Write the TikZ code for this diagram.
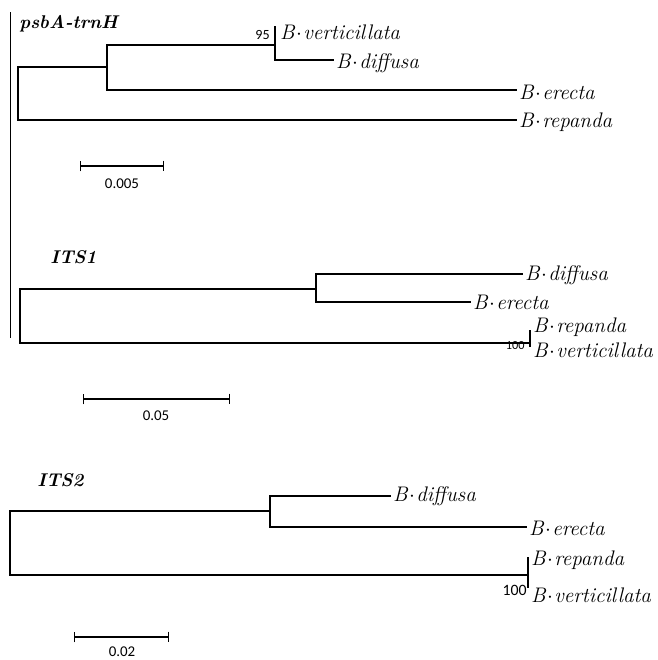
\documentclass[tikz,border=0pt]{standalone}
\usepackage{fontspec}
\usetikzlibrary{arrows.meta}
\newfontfamily\numfont{Carlito}
\newcommand{\spname}[1]{B\kern0.8pt$\cdot$\kern0.8pt#1}
\tikzset{
  branch/.style={line width=0.8pt},
  taxon/.style={anchor=west, inner sep=1pt, font=\fontsize{12}{14}\selectfont\itshape},
  support/.style={inner sep=0pt, font=\fontsize{8}{9}\selectfont\numfont},
  marker/.style={anchor=west, inner sep=0pt, font=\fontsize{10.5}{12}\selectfont\bfseries\itshape},
  scalebar/.style={line width=0.8pt, {Bar[width=6pt]}-{Bar[width=6pt]}},
  scalelabel/.style={inner sep=0pt, font=\fontsize{8.5}{10}\selectfont\numfont},
}
\begin{document}
\begin{tikzpicture}[x=0.02cm, y=-0.02cm]
    \useasboundingbox (0,0) rectangle (657,660);

    % frame line on the left
    \coordinate (fa) at (10,12);
    \coordinate (fb) at (10,338);
    \draw[line width=0.5pt] (fa) -- (fb);

    % psbA-trnH
    \node[marker] (m1) at (19,24) {psbA-trnH};
    \coordinate (p0) at (18,94);
    \coordinate (p1) at (107,67);
    \coordinate (p2) at (275,45);
    \coordinate (pv) at (275,26);
    \node[taxon] (pver) at (278,32) {\spname{verticillata}};
    \node[taxon] (pdif) at (334,63) {\spname{diffusa}};
    \node[taxon] (pere) at (517,92) {\spname{erecta}};
    \node[taxon] (prep) at (517,122) {\spname{repanda}};
    \draw[branch] (p0) |- (p1);
    \draw[branch] (p0) |- (prep.west |- 0,120);
    \draw[branch] (p1) |- (p2);
    \draw[branch] (p1) |- (pere.west |- 0,90);
    \draw[branch] (p2) -- (pv);
    \draw[branch] (p2) |- (pdif.west |- 0,60);
    \node[support, anchor=east] (ps) at (270,35) {95};
    \coordinate (pa) at (80,166);
    \coordinate (pb) at (164,166);
    \draw[scalebar] (pa) -- (pb);
    \node[scalelabel] (pl) at (122,184) {0.005};

    % ITS1
    \node[marker] (m2) at (50,257) {ITS1};
    \coordinate (a0) at (20,316);
    \coordinate (a1) at (316,289);
    \coordinate (a2) at (530,343);
    \coordinate (at) at (530,330);
    \coordinate (ab) at (530,347);
    \node[taxon] (adif) at (523,275) {\spname{diffusa}};
    \node[taxon] (aere) at (471,302) {\spname{erecta}};
    \node[taxon] (arep) at (531,327) {\spname{repanda}};
    \node[taxon] (aver) at (531,350) {\spname{verticillata}};
    \draw[branch] (a0) |- (a1);
    \draw[branch] (a0) |- (a2);
    \draw[branch] (a1) |- (adif.west |- 0,274);
    \draw[branch] (a1) |- (aere.west |- 0,302);
    \draw[branch] (at) -- (ab);
    \node[support, anchor=east, font=\fontsize{7}{8}\selectfont\numfont] (as) at (525,346) {100};
    \coordinate (aa) at (83,399);
    \coordinate (ab2) at (230,399);
    \draw[scalebar] (aa) -- (ab2);
    \node[scalelabel] (al) at (156,416) {0.05};

    % ITS2
    \node[marker] (m3) at (37,480) {ITS2};
    \coordinate (b0) at (10,543);
    \coordinate (b1) at (270,511);
    \coordinate (b2) at (528,575);
    \coordinate (bt) at (528,557);
    \coordinate (bb) at (528,588);
    \node[taxon] (bdif) at (391,496) {\spname{diffusa}};
    \node[taxon] (bere) at (527,528) {\spname{erecta}};
    \node[taxon] (brep) at (529,560) {\spname{repanda}};
    \node[taxon] (bver) at (529,595) {\spname{verticillata}};
    \draw[branch] (b0) |- (b1);
    \draw[branch] (b0) |- (b2);
    \draw[branch] (b1) |- (bdif.west |- 0,496);
    \draw[branch] (b1) |- (bere.west |- 0,527);
    \draw[branch] (bt) -- (bb);
    \node[support, anchor=east, font=\fontsize{9}{10}\selectfont\numfont] (bs) at (527,590) {100};
    \coordinate (ba) at (74,637);
    \coordinate (bb2) at (169,637);
    \draw[scalebar] (ba) -- (bb2);
    \node[scalelabel] (bl) at (122,652) {0.02};
\end{tikzpicture}
\end{document}
